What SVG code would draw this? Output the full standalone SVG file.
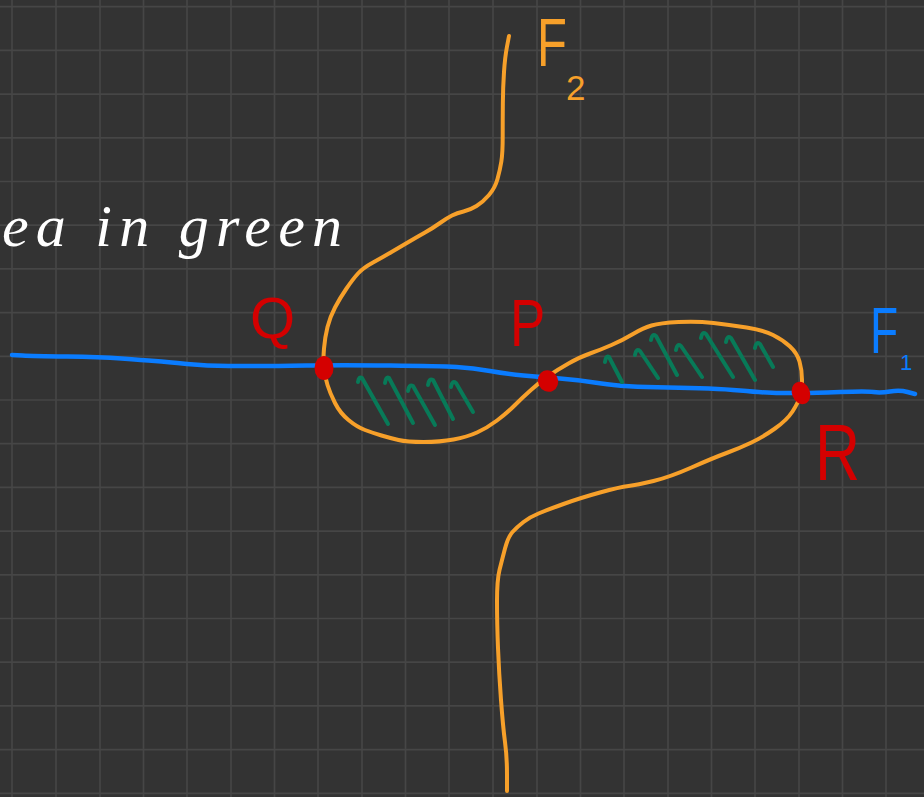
<svg xmlns="http://www.w3.org/2000/svg" width="924" height="797" viewBox="0 0 924 797">
<style>
.grid{stroke:#464646;stroke-width:1.7;fill:none}
.orange{stroke:#f7a02a;stroke-width:4;fill:none;stroke-linecap:round;stroke-linejoin:round}
.blue{stroke:#0a7cff;stroke-width:4.5;fill:none;stroke-linecap:round;stroke-linejoin:round}
.hatch{stroke:#087a58;stroke-width:4;fill:none;stroke-linecap:round;stroke-linejoin:round}
.dot{fill:#d40000}
.lbl{font-family:"Liberation Sans",Arial,sans-serif}
.red{fill:#d40000}
.hand{font-family:"Liberation Serif",serif;font-style:italic;fill:#ffffff}
</style>
<rect x="0" y="0" width="924" height="797" fill="#333333"/>
<g id="grid">
<path class="grid" d="M12 0V797M56 0V797M100 0V797M143.5 0V797M187 0V797M231 0V797M274.5 0V797M318 0V797M362 0V797M405.5 0V797M449 0V797M493 0V797M537 0V797M580.5 0V797M624 0V797M668 0V797M711.5 0V797M755 0V797M799 0V797M842.5 0V797M886 0V797"/>
<path class="grid" d="M0 6.7H924M0 50.4H924M0 94.1H924M0 137.8H924M0 181.5H924M0 225.2H924M0 268.9H924M0 312.6H924M0 356.3H924M0 400H924M0 443.7H924M0 487.4H924M0 531.1H924M0 574.8H924M0 618.5H924M0 662.2H924M0 705.9H924M0 749.6H924M0 793.3H924"/>
</g>
<g id="caption">
<text class="hand" x="2" y="246" font-size="60" textLength="340" lengthAdjust="spacing">ea in green</text>
</g>
<g id="connectors">
<path id="F2-curve" class="orange" d="M509 36 L507 46.5 Q505 57 504 72 Q503 87 502.85 103.5 Q502.7 120 502.7 136.5 Q502.7 153 501.35 161.5 Q500 170 497.5 179 Q495 188 489 195 Q483 202 476.5 206 Q470 210 463.5 211.5 Q457 213 452 215.5 Q447 218 440 223 Q433 228 425 232.5 Q417 237 408.5 242 Q400 247 391.5 252 Q383 257 373 262.5 Q363 268 358 273.5 Q353 279 346.5 288.5 Q340 298 335 307.5 Q330 317 327.5 327 Q325 337 324 348.5 Q323 360 324 368.5 Q325 377 327.5 385 Q330 393 335 403 Q340 413 348.5 420 Q357 427 365 430 Q373 433 381.5 435.5 Q390 438 398.5 440 Q407 442 423.5 442 Q440 442 453.5 439.5 Q467 437 477 432.5 Q487 428 497 420.5 Q507 413 515 405 Q523 397 531.5 389.5 Q540 382 548.5 376 Q557 370 568.5 363.5 Q580 357 590 353.5 Q600 350 611.5 345 Q623 340 633 334 Q643 328 651.5 325.5 Q660 323 678.5 322 Q697 321 713.5 323 Q730 325 746.5 327.5 Q763 330 773 335 Q783 340 790 346.5 Q797 353 799.5 361.5 Q802 370 802 380 Q802 390 800 396.5 Q798 403 792.5 411.5 Q787 420 775 428.5 Q763 437 751.5 442.5 Q740 448 726.5 453 Q713 458 691.5 467.5 Q670 477 653.5 481 Q637 485 628.5 486 Q620 487 600 492.5 Q580 498 563.5 504 Q547 510 538.5 513.5 Q530 517 523.5 522 Q517 527 512.5 532 Q508 537 505 548.5 Q502 560 499.5 570 Q497 580 497 601.5 Q497 623 498 648 Q499 673 501 700 Q503 727 505 742 Q507 757 507 774 L507 791"/>
<path id="F1-curve" class="blue" d="M12 355 L22.5 355.5 Q33 356 66.5 356.5 Q100 357 121.5 358.5 Q143 360 155 361 Q167 362 187 364 Q207 366 228.5 366 Q250 366 261.5 366 Q273 366 306.5 365.5 Q340 365 390 365.5 Q440 366 456.5 367 Q473 368 490 371 Q507 374 523.5 375.5 Q540 377 560 378.5 Q580 380 601.5 383.5 Q623 387 668 387.5 Q713 388 740 390.5 Q767 393 780 393 Q793 393 803 393 Q813 393 840 392 Q867 391 873.5 392 Q880 393 890 391.5 Q900 390 907.5 392 L915 394"/>
<g id="hatching">
<path class="hatch" d="M358 382Q359 376 362 378L388 424M385 383Q386 376 389 378L413 423M408 391Q409 384 413 386L435 425M428 385Q429 378 433 380L453 419M451 387Q452 380 456 383L473 412"/>
<path class="hatch" d="M605 362Q606 355 609 357L622 382M635 355Q636 348 640 351L658 378M651 340Q652 333 656 336L677 375M676 350Q677 343 681 346L702 377M701 338Q702 331 706 334L733 377M726 342Q727 335 731 338L755 380M755 348Q756 341 760 344L773 367"/>
</g>
</g>
<g id="Q">
<ellipse class="dot" cx="324" cy="368" rx="9.5" ry="12"/>
<text class="lbl red" x="250" y="338" font-size="58">Q</text>
</g>
<g id="P">
<ellipse class="dot" cx="548" cy="381" rx="10" ry="11" transform="rotate(-25 548 381)"/>
<text class="lbl red" x="510" y="346" font-size="66" transform="translate(510 0) scale(0.8 1) translate(-510 0)">P</text>
</g>
<g id="R">
<ellipse class="dot" cx="801" cy="393" rx="9" ry="11.5" transform="rotate(-20 801 393)"/>
<text class="lbl red" x="815" y="480" font-size="80" transform="translate(815 0) scale(0.78 1) translate(-815 0)">R</text>
</g>
<g id="F1">
<text class="lbl" fill="#0a7cff" x="870" y="353" font-size="64" transform="translate(870 0) scale(0.72 1) translate(-870 0)">F</text>
<text class="lbl" fill="#0a7cff" x="900" y="370" font-size="22">1</text>
</g>
<g id="F2">
<text class="lbl" fill="#f7a02a" x="537" y="66" font-size="68" transform="translate(537 0) scale(0.72 1) translate(-537 0)">F</text>
<text class="lbl" fill="#f7a02a" x="566" y="100" font-size="35">2</text>
</g>
</svg>
